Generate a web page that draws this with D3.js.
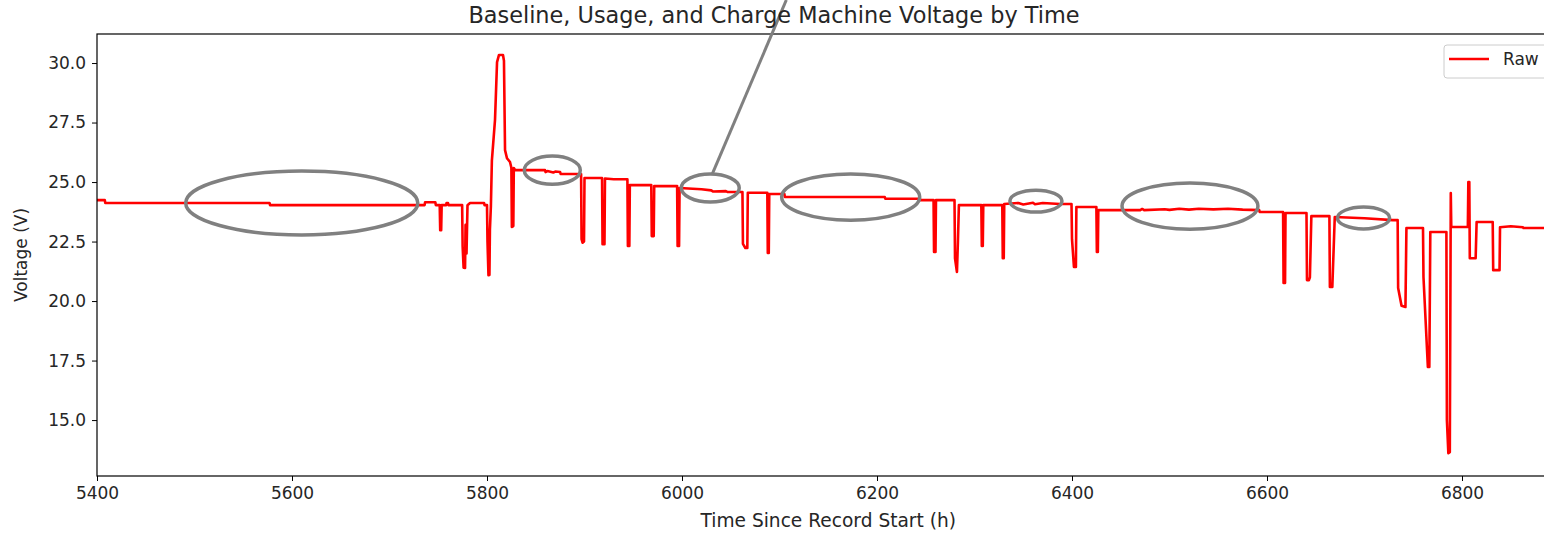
<!DOCTYPE html>
<html>
<head>
<meta charset="utf-8">
<script src="https://cdn.jsdelivr.net/npm/d3@7"></script>
<style>
  body { margin: 0; background: #fff; }
  text { font-family: "DejaVu Sans", sans-serif; fill: #262626; }
</style>
</head>
<body>
<div id="vis"></div>
<script>
// time since record start (h) and raw voltage (V)
const timeH = [
  5400, 5408, 5408.5, 5577, 5577.5, 5736, 5736.5, 5747, 5747.5, 5751.5, 5752, 5753, 5753.5, 5758, 5758.5, 5760, 5760.5,
  5774.5, 5775, 5776, 5777.5, 5778, 5779, 5780, 5782.6, 5797, 5797.5, 5800, 5800.5, 5801.5, 5802.5, 5803, 5804,
  5805, 5808.2, 5810.3, 5812.3, 5816.4, 5817.4, 5818.5, 5820.5, 5823.6, 5825, 5825.5, 5827, 5827.5, 5829,
  5859.5, 5860, 5862, 5868, 5870, 5875, 5875.5, 5896.5, 5897, 5898, 5899.5, 5900, 5918, 5918.5, 5920.5, 5921,
  5930, 5944, 5944.5, 5946, 5946.5, 5968.5, 5969, 5971, 5971.5, 5995, 5995.5, 5997, 5997.5,
  6020, 6030, 6032, 6045, 6047, 6058, 6062, 6062.5, 6065, 6067, 6067.5, 6087.5, 6088, 6089, 6089.5,
  6105, 6105.5, 6208, 6208.5, 6244, 6244.5, 6258, 6258.5, 6260, 6260.5, 6279.5, 6280, 6282, 6283, 6284,
  6307, 6307.5, 6308.5, 6309, 6328.5, 6329, 6330, 6330.5, 6345, 6350, 6360, 6362, 6370, 6387.7,
  6399.5, 6400, 6402, 6404, 6404.5, 6425, 6425.5, 6426.5, 6427,
  6470, 6472, 6474, 6495, 6500, 6510, 6520, 6530, 6545, 6560, 6575, 6592, 6592.5,
  6616.5, 6617, 6618.5, 6619, 6640.5, 6641, 6643, 6644, 6645.5, 6664, 6664.5, 6667, 6669.5,
  6700, 6729, 6734, 6734.5, 6738, 6742, 6743, 6760, 6760.5, 6765, 6766.5, 6767.5,
  6784, 6784.5, 6786, 6787.5, 6788.5, 6789, 6806, 6806.5, 6807.5, 6808, 6814, 6815,
  6831.5, 6832, 6838.5, 6839, 6850, 6862.5, 6863, 6900
];
const voltage = [
  24.24, 24.24, 24.12, 24.12, 24.03, 24.03, 24.15, 24.15, 24.03, 24.03, 22.98, 22.98, 24.03, 24.03, 24.12, 24.12, 24.03,
  24.03, 22.3, 21.4, 21.39, 23.2, 22.0, 24.03, 24.12, 24.12, 24.03, 24.03, 22.5, 21.09, 21.1, 23.0, 24.0,
  25.9, 27.6, 30.04, 30.34, 30.34, 30.1, 26.34, 26.0, 25.84, 25.6, 23.11, 23.15, 25.59, 25.5,
  25.5, 25.42, 25.46, 25.4, 25.44, 25.42, 25.34, 25.34, 22.6, 22.45, 22.5, 25.17, 25.17, 22.39, 22.39, 25.15,
  25.12, 25.12, 22.31, 22.31, 24.87, 24.87, 22.73, 22.73, 24.83, 24.83, 22.31, 22.31, 24.75,
  24.7, 24.65, 24.6, 24.62, 24.58, 24.58, 24.58, 22.4, 22.23, 22.23, 24.55, 24.55, 22.02, 22.02, 24.5,
  24.5, 24.37, 24.37, 24.3, 24.3, 24.24, 24.24, 22.06, 22.06, 24.24, 24.24, 21.8, 21.22, 22.5, 24.03,
  24.03, 22.31, 22.31, 24.03, 24.03, 21.8, 21.8, 24.08, 24.12, 24.06, 24.13, 24.07, 24.12, 24.08,
  24.08, 22.6, 21.43, 21.43, 23.95, 23.95, 22.06, 22.06, 23.82,
  23.82, 23.87, 23.82, 23.86, 23.83, 23.88, 23.84, 23.88, 23.85, 23.88, 23.84, 23.82, 23.74,
  23.74, 20.76, 20.76, 23.7, 23.7, 20.88, 20.88, 21.0, 23.57, 23.57, 20.59, 20.59, 23.53,
  23.48, 23.4, 23.4, 20.55, 19.8, 19.75, 23.07, 23.07, 21.0, 17.23, 17.23, 22.9,
  22.9, 15.0, 13.61, 13.65, 24.54, 23.11, 23.11, 25.0, 25.0, 21.8, 21.8, 23.32,
  23.32, 21.3, 21.3, 23.1, 23.14, 23.1, 23.07, 23.07
];

// gray annotation ellipses: centre (h, V) and half-axes (h, V)
const ringTime = [5610, 5867, 6029, 6173, 6363, 6521, 6699];
const ringVolt = [24.12, 25.5, 24.75, 24.37, 24.2, 23.99, 23.49];
const ringHalfTime = [119, 28.7, 29.7, 70.8, 26.7, 69.7, 26.7];
const ringHalfVolt = [1.34, 0.59, 0.59, 0.97, 0.46, 0.97, 0.46];

const xTicks = [5400, 5600, 5800, 6000, 6200, 6400, 6600, 6800];
const yTicks = [15.0, 17.5, 20.0, 22.5, 25.0, 27.5, 30.0];

const margin = { top: 34, right: 0, bottom: 58, left: 97 };
const W = 1544, H = 534;
const plotRight = 1559.5;

const svg = d3.select("#vis").append("svg")
  .attr("width", W)
  .attr("height", H);

const x = d3.scaleLinear().domain([5400, 6900]).range([margin.left, plotRight]);
const y = d3.scaleLinear().domain([12.65, 31.22]).range([H - margin.bottom, margin.top]);

svg.append("clipPath").attr("id", "plot")
  .append("rect")
  .attr("x", margin.left).attr("y", margin.top)
  .attr("width", plotRight - margin.left).attr("height", y.range()[0] - margin.top);

const points = timeH.map((t, i) => [t, voltage[i]]);

svg.append("path")
  .datum(points)
  .attr("clip-path", "url(#plot)")
  .attr("fill", "none")
  .attr("stroke", "#ff0000")
  .attr("stroke-width", 2.6)
  .attr("stroke-linejoin", "round")
  .attr("d", d3.line().x(d => x(d[0])).y(d => y(d[1])));

// spines
svg.append("rect")
  .attr("x", margin.left).attr("y", margin.top)
  .attr("width", plotRight - margin.left).attr("height", y.range()[0] - margin.top)
  .attr("fill", "none").attr("stroke", "#000").attr("stroke-width", 1.2);

const xAxis = svg.append("g")
  .attr("transform", `translate(0,${y.range()[0]})`)
  .call(d3.axisBottom(x).tickValues(xTicks).tickSize(5).tickPadding(6).tickFormat(d3.format("d")));
const yAxis = svg.append("g")
  .attr("transform", `translate(${margin.left},0)`)
  .call(d3.axisLeft(y).tickValues(yTicks).tickSize(5).tickPadding(6).tickFormat(d3.format(".1f")));

[xAxis, yAxis].forEach(g => {
  g.select(".domain").remove();
  g.selectAll("line").attr("stroke", "#000");
  g.selectAll("text").attr("font-size", 17).attr("font-family", "DejaVu Sans").attr("fill", "#262626");
});

// annotations
const rings = ringTime.map((t, i) => ({ t, v: ringVolt[i], rt: ringHalfTime[i], rv: ringHalfVolt[i] }));
svg.selectAll("ellipse.ring")
  .data(rings)
  .enter()
  .append("ellipse")
  .attr("class", "ring")
  .attr("cx", d => x(d.t))
  .attr("cy", d => y(d.v))
  .attr("rx", d => x(d.t + d.rt) - x(d.t))
  .attr("ry", d => y(d.v - d.rv) - y(d.v))
  .attr("fill", "none")
  .attr("stroke", "#808080")
  .attr("stroke-width", 3.5);

svg.append("line")
  .attr("x1", x(6031)).attr("y1", y(25.33))
  .attr("x2", x(6107)).attr("y2", 0)
  .attr("stroke", "#808080")
  .attr("stroke-width", 3);

// legend
const legend = svg.append("g").attr("transform", "translate(1444,45)");
legend.append("rect")
  .attr("width", 140).attr("height", 33).attr("rx", 3)
  .attr("fill", "#fff").attr("fill-opacity", 0.8)
  .attr("stroke", "#cccccc");
legend.append("line")
  .attr("x1", 5).attr("x2", 45).attr("y1", 14).attr("y2", 14)
  .attr("stroke", "#ff0000").attr("stroke-width", 2.6);
legend.append("text")
  .attr("x", 59).attr("y", 20)
  .attr("font-size", 17)
  .text("Raw");

// titles
svg.append("text")
  .attr("x", 774).attr("y", 23)
  .attr("text-anchor", "middle")
  .attr("font-size", 22.4)
  .text("Baseline, Usage, and Charge Machine Voltage by Time");

svg.append("text")
  .attr("x", (margin.left + plotRight) / 2).attr("y", 527)
  .attr("text-anchor", "middle")
  .attr("font-size", 18.6)
  .text("Time Since Record Start (h)");

svg.append("text")
  .attr("transform", `translate(27,${(margin.top + y.range()[0]) / 2}) rotate(-90)`)
  .attr("text-anchor", "middle")
  .attr("font-size", 17)
  .text("Voltage (V)");
</script>
</body>
</html>
